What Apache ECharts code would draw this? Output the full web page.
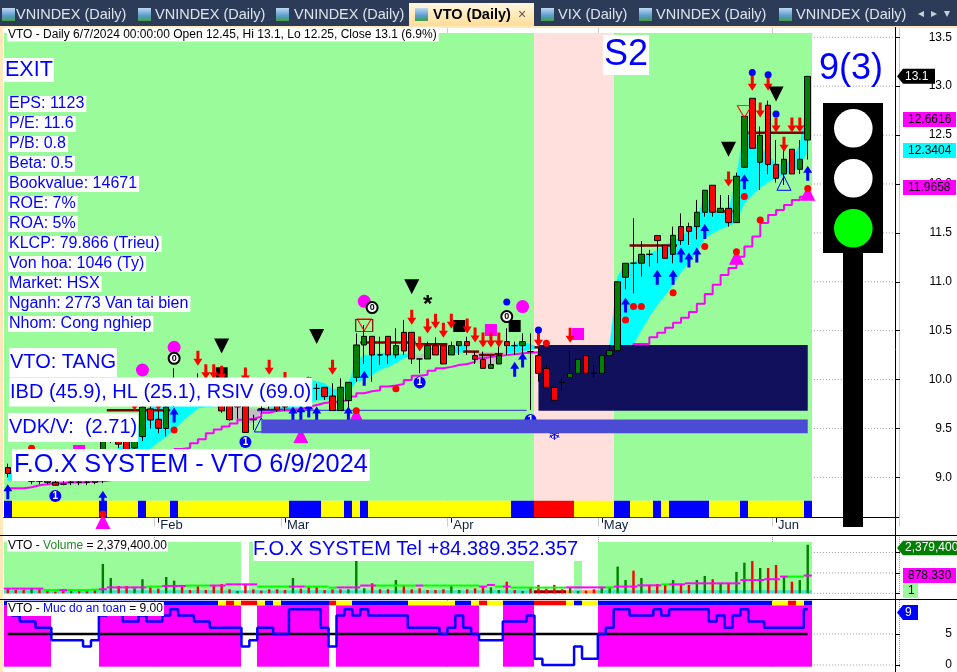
<!DOCTYPE html>
<html><head><meta charset="utf-8">
<style>html,body{margin:0;padding:0;background:#fff}#c{width:957px;height:672px}</style>
<script src="https://cdn.jsdelivr.net/npm/echarts@6/dist/echarts.min.js"></script>
</head><body><div id="c"></div>
<script>
const opens=[9.10,9.05,9.12,8.96,8.98,8.97,8.95,8.93,8.95,8.95,
8.95,8.97,8.98,9.45,9.41,9.40,9.30,9.417,9.70,9.594,
9.50,9.90,9.90,9.95,9.88,9.90,9.85,10.02,9.85,9.75,
9.95,9.59,9.70,9.80,9.78,9.78,9.80,9.82,10.02,9.91,
9.921,9.832,9.683,9.785,10.023,10.354,10.442,10.252,10.442,10.252,
10.483,10.483,10.211,10.211,10.347,10.347,10.252,10.347,10.388,10.245,
10.207,10.115,10.160,10.388,10.347,10.347,10.286,10.245,10.115,9.921,
9.972,10.023,10.064,10.245,10.064,10.064,10.245,10.296,11.046,11.19,
11.19,11.281,11.472,11.373,11.281,11.564,11.564,11.564,11.711,11.987,
11.711,11.751,11.605,12.171,12.876,12.222,12.805,12.2,12.103,12.355,12.15,12.45];
const closes=[9.04,9.10,9.06,9.03,8.96,8.95,8.92,8.93,8.95,8.95,
8.95,8.95,9.40,9.38,9.34,9.28,9.48,9.72,9.587,9.502,
9.72,9.85,9.85,9.87,9.93,9.84,9.80,9.68,9.59,9.72,
9.46,9.59,9.70,9.75,9.69,9.72,9.85,9.88,9.82,9.91,
9.826,9.683,9.921,9.972,10.354,10.442,10.252,10.252,10.252,10.347,
10.293,10.211,10.211,10.347,10.252,10.160,10.347,10.388,10.347,10.207,
10.115,10.153,10.245,10.347,10.347,10.388,10.286,10.064,9.921,9.788,
9.972,10.061,10.207,10.064,10.064,10.245,10.296,11.0,11.189,11.19,
11.281,11.281,11.421,11.24,11.475,11.421,11.516,11.711,11.936,11.711,
11.751,11.605,12.079,12.692,12.365,12.498,12.2,12.058,12.253,12.103,12.253,13.1];
const lows=[9.0,9.02,9.02,8.93,8.93,8.93,8.92,8.92,8.92,8.92,
8.92,8.93,8.94,9.35,9.30,9.26,9.26,9.37,9.50,9.45,
9.42,9.72,9.80,9.82,9.80,9.80,9.75,9.66,9.58,9.60,
9.46,9.485,9.65,9.70,9.67,9.68,9.75,9.75,9.78,9.79,
9.791,9.683,9.683,9.689,9.979,10.160,9.979,10.150,10.160,10.217,
10.252,10.160,10.064,10.211,10.252,10.160,10.252,10.252,10.252,10.160,
10.115,10.115,10.160,10.252,10.252,10.252,9.689,9.979,9.921,9.788,
9.887,10.023,10.064,10.064,10.023,10.064,10.245,10.296,10.923,10.882,
11.053,11.155,11.189,11.24,11.189,11.377,11.377,11.434,11.666,11.666,
11.711,11.564,11.605,12.171,12.365,11.939,12.1,12.014,11.99,12.103,12.103,12.25];
const highs=[9.14,9.14,9.15,9.14,9.0,9.01,8.98,8.96,8.98,9.0,
8.98,8.98,9.42,9.48,9.46,9.44,9.52,9.76,9.76,9.72,
9.78,10.115,10.0,10.0,10.064,9.98,9.96,10.08,9.95,9.85,
10.0,9.64,9.8,9.95,9.85,9.85,9.95,9.95,10.03,9.96,
9.921,9.962,10.013,9.972,10.473,10.558,10.442,10.439,10.442,10.524,
10.610,10.483,10.211,10.388,10.432,10.347,10.388,10.388,10.439,10.286,
10.286,10.252,10.337,10.524,10.388,10.473,10.473,10.337,10.149,9.921,
10.013,10.293,10.207,10.245,10.149,10.245,10.354,11.0,11.189,11.649,
11.417,11.326,11.472,11.373,11.564,11.70,11.605,11.837,11.936,11.987,
11.888,11.888,12.116,12.692,12.876,12.587,12.852,12.45,12.4,12.355,12.45,13.1];
const bandFast=[9.06,9.06,9.06,9.06,9.01,8.97,8.93,8.93,8.93,8.93,
8.94,8.96,9.10,9.25,9.30,9.35,9.45,9.60,9.75,9.75,
9.76,9.76,9.76,9.76,9.75,9.74,9.72,9.70,9.62,9.58,
9.55,9.56,9.66,9.72,9.75,9.80,9.95,10.0,10.0,9.98,
9.96,9.9,9.9,9.95,10.2,10.25,10.25,10.27,10.27,10.26,
10.26,10.26,10.2,10.27,10.37,10.2,10.3,10.35,10.36,10.2,
10.13,10.13,10.2,10.33,10.36,10.38,10.36,10.33,10.2,10.2,
10.2,10.2,10.2,10.2,10.2,10.2,10.35,11.05,11.19,11.19,
11.26,11.285,11.325,11.376,11.42,11.46,11.53,11.6,11.92,11.73,
11.70,11.73,12.07,12.6,12.45,12.37,12.3,12.2,12.2,12.25,12.4,12.85];
const bandSlow=[8.97,8.97,8.98,8.98,8.99,8.98,8.97,8.97,8.97,8.97,
8.97,8.97,8.97,9.0,9.05,9.1,9.18,9.25,9.297,9.36,
9.417,9.49,9.57,9.64,9.706,9.72,9.72,9.71,9.71,9.71,
9.71,9.70,9.70,9.71,9.70,9.70,9.70,9.72,9.75,9.79,
9.79,9.82,9.84,9.87,9.979,10.0,10.05,10.1,10.13,10.17,
10.22,10.24,10.25,10.28,10.33,10.27,10.28,10.27,10.3,10.28,
10.28,10.28,10.27,10.27,10.28,10.29,10.31,10.32,10.3,10.3,
10.3,10.3,10.3,10.3,10.3,10.3,10.33,10.33,10.34,10.364,
10.507,10.643,10.762,10.865,10.967,11.10,11.19,11.31,11.445,11.496,
11.54,11.57,11.615,11.8,11.888,11.96,12.02,12.058,12.09,12.126,12.178,12.34];
const stopLine=[8.888,8.89,8.90,8.92,8.93,8.94,8.94,8.95,8.95,8.95,
8.96,8.96,8.97,9.0,9.04,9.08,9.12,9.16,9.2,9.23,
9.26,9.29,9.30,9.35,9.39,9.45,9.49,9.52,9.55,9.59,
9.60,9.62,9.66,9.68,9.69,9.69,9.70,9.72,9.74,9.76,
9.77,9.775,9.79,9.826,9.86,9.88,9.89,9.93,9.94,9.955,
9.996,10.04,10.05,10.09,10.115,10.13,10.15,10.16,10.18,10.217,
10.23,10.24,10.25,10.26,10.27,10.275,10.28,10.15,10.15,10.16,
10.18,10.2,10.22,10.24,10.26,10.28,10.3,10.31,10.33,10.364,
10.364,10.432,10.48,10.53,10.58,10.633,10.69,10.776,10.875,10.97,
11.07,11.14,11.257,11.36,11.462,11.6,11.683,11.735,11.785,11.837,11.87,11.97];

const volumes=[.245,.163,.163,.245,.196,.196,.08,.163,.163,.114,
.098,.163,1.44,.75,.36,.36,.245,.69,.294,.229,
.8,.62,.41,.163,.36,.163,.36,.457,.196,.114,
.41,.196,.13,.196,.196,.163,.75,.229,.33,.33,
.163,.196,.196,.196,1.63,.245,.49,.196,.196,.65,
.36,.196,.245,.163,.163,.196,.36,.163,.196,.245,
.36,.294,.163,.57,.163,.114,.294,.41,.229,.41,
.196,.294,.114,.13,.196,.294,.294,1.31,.65,1.11,
.75,.41,.457,.41,.65,.457,.41,.65,.85,.69,
.457,.49,1.05,1.5,1.58,1.24,1.24,1.39,.82,.57,.65,2.379];
const volumeDirs=["r","r","r","g","r","r","r","r","g","r","r","r","g","g","r","r","g","g","r","r",
"g","g","r","r","r","r","r","r","r","g","r","r","r","r","r","r","g","r","r","r",
"r","r","r","g","g","g","r","r","r","g","r","r","r","r","r","r","g","g","r","r",
"r","g","g","r","r","g","r","r","r","r","r","g","g","r","r","g","g","g","g","r",
"g","r","r","r","g","r","r","g","g","r","g","r","g","g","r","g","r","r","g","r","g","g"];
const volumeMa=[.23,.23,.23,.23,.23,.16,.16,.16,.16,.16,
.16,.18,.2,.29,.29,.29,.29,.29,.33,.33,
.36,.36,.36,.38,.38,.38,.38,.38,.44,.44,
.44,.44,.33,.33,.33,.33,.33,.33,.33,.33,
.33,.28,.29,.29,.29,.38,.38,.38,.38,.38,
.38,.38,.38,.38,.38,.38,.38,.38,.38,.38,
.33,.41,.33,.33,.28,.28,.28,.28,.28,.28,
.28,.29,.29,.29,.29,.29,.29,.33,.33,.33,
.39,.39,.39,.44,.44,.44,.49,.49,.49,.49,
.49,.49,.49,.65,.65,.65,.69,.69,.82,.82,.82,.87];
const volumeMaGreenRuns=[[5,6],[8,11],[18,19],[23,25],[32,35],[38,41],[47,51],[53,59],[62,62],[64,70],[76,76],[83,83],[99,100]];
const volumeBaseRuns=[["T",67],["D",4],["O",1],["T",1],["O",2],["T",27]];
const volumeBaseHeight=.15;

const safetyLevel=[9,8,7,7,6,6,4,4,4,4,3,4,8,9,9,7,7,8,7,7,
8,9,8,8,7,7,6,6,6,6,3,4,6,6,5,5,9,9,9,9,
6,3,8,9,8,9,8,8,8,8,8,6,6,6,6,5,6,8,6,5,
4,4,4,7,7,7,8,1,0,0,0,0,3,1,1,5,6,9,9,8,
8,8,9,8,9,9,9,9,9,7,8,6,8,9,7,7,6,6,6,6,6,9];
const safetyMid=5;

const mainStripRuns=[["B",1],["Y",11],["B",1],["Y",4],["B",1],["Y",3],["B",1],["Y",14],["B",4],["Y",3],["B",1],["Y",1],["B",1],["Y",18],["B",3],["R",5],["Y",5],["B",2],["Y",3],["B",1],["Y",1],["B",5],["Y",4],["B",1],["Y",7],["B",1]];
const safetyStripRuns=[["B",27],["Y",1],["R",1],["Y",1],["R",2],["Y",1],["B",1],["Y",1],["B",6],["R",1],["Y",2],["B",7],["Y",6],["B",2],["Y",1],["R",1],["Y",2],["B",4],["R",4],["Y",1],["B",1],["Y",2],["B",22],["Y",2],["R",1],["Y",1],["B",1]];
const mainBgRuns=[["G",67],["P",10],["G",25]];
const volumeBgRuns=[["G",30],["W",1],["G",36],["W",5],["G",1],["W",2],["G",27]];

const downArrows=[[16,9.76],[19,9.76],[24,10.218],[25,10.081],[26,10.081],[27,10.064],[30,10.047],[33,10.125],[35,10.0],
[41,10.125],[51,10.637],[52,10.364],[53,10.548],[54,10.596],[55,10.504],[56,10.596],[58,10.548],[59,10.456],[60,10.405],[61,10.405],[62,10.405],[67,10.412],[71,10.453],
[91,12.052],[94,13.03],[95,12.757],[96,13.03],[97,12.604],[98,12.406],[99,12.604],[100,12.604]];
const upArrows=[[0,8.854],[12,8.786],[21,9.638],[36,9.648],[37,9.662],[38,9.69],[39,9.648],[43,9.648],[45,10.013],[64,10.105],[65,10.2],
[78,10.763],[82,11.046],[84,11.046],[85,11.274],[86,11.223],[87,11.274],[88,11.513],[93,12.024],[101,12.11]];
const signalOne=[[6,8.81],[30,9.362],[52,9.969],[66,9.587]];
const signalZero=[[21,10.217],[46,10.736],[63,10.644]];
const magentaDots=[[17,10.098],[21,10.33],[45,10.80],[65,10.746]];
const blackDown=[[27,10.344],[39,10.44],[51,10.95],[91,12.355],[97,12.92]];
const blackSquares=[[27,10.064],[57,10.548],[64,10.548]];
const magentaSquares=[[9,9.27],[61,10.507],[72,10.466]];
const blueDiamonds=[[63,10.794],[67,10.507],[94,13.139],[96,13.118],[97,12.716]];
const redDiamonds=[[3,9.297],[12,8.626],[21,9.485],[44,9.682],[49,9.907],[68,10.371],[78,10.609],[79,10.746],[80,10.746],[84,10.889],[88,11.36],[92,11.308],[93,11.871],[95,11.632],[101,11.953]];
const magentaUp=[[12,8.548],[37,9.427],[44,9.638],[92,11.25],[101,11.905]];
const hollowRedDown=[[45,10.558],[93,12.74]];
const hollowBlueUp=[[32,9.536],[98,12.007]];
const hollowBox=[[45,10.555]];
const asterisks=[[53,10.797]];
const snowflakes=[[69,9.417]];
const resistance=[[13,20,9.686],[32,36,9.69],[45,51,10.378],[52,55,10.36],[58,59,10.286],[60,61,10.252],[62,62,10.26],[67,67,10.33],[79,84,11.37],[90,91,11.72],[94,100,12.525]];
const thinBlue=[[32,65,9.686]];
const navyZone=[[67,101,10.354,9.682]];
const blueZone=[[32,101,9.593,9.45]];
const priceTicks=[9,9.5,10,10.5,11,11.5,12,12.5,13,13.5];
const volumeTicks=[0,1,2];
const safetyTicks=[0,5];
const monthTicks=[[19,"Feb"],[35,"Mar"],[56,"Apr"],[75,"May"],[97,"Jun"]];
const statLines=["EPS: 1123","P/E: 11.6","P/B: 0.8","Beta: 0.5","Bookvalue: 14671","ROE: 7%","ROA: 5%","KLCP: 79.866 (Trieu)","Von hoa: 1046 (Ty)","Market: HSX","Nganh: 2773 Van tai bien","Nhom: Cong nghiep"];
const tabs=[["VNINDEX (Daily)",1,16],["VNINDEX (Daily)",137,155],["VNINDEX (Daily)",275,294],["VIX (Daily)",540,558],["VNINDEX (Daily)",638,656],["VNINDEX (Daily)",778,796]];

const BARS=102, SLOTS=113;
const expand=r=>r.flatMap(([c,n])=>Array(n).fill(c));
const PAL={B:"#0000FF",Y:"#FFFF00",R:"#FF0000",G:"#99FB99",P:"#FFE0DC",W:"#FFFFFF",T:"#40E0D0",D:"#8B0000",O:"#FFA050",M:"#FF00FF"};
const categories=Array.from({length:SLOTS},(_,i)=>{const m=monthTicks.find(t=>t[0]===i);return m?m[1]:"";});
const hasLabel=(i,v)=>v!=="";
const FONT='"Liberation Sans",Arial,sans-serif';

function cellSeries(gridIdx,codes,top,bottom,z){
  return {type:"custom",xAxisIndex:gridIdx,yAxisIndex:gridIdx,z,silent:true,clip:false,
    data:codes.map((c,i)=>[i,top,bottom]),encode:{x:0,y:[1,2]},
    renderItem(p,api){
      const w=api.size([1,0])[0],i=api.value(0),c=api.coord([i,api.value(1)]),d=api.coord([i,api.value(2)]);
      const x0=Math.round(c[0]-w/2),x1=Math.round(c[0]+w/2);
      return {type:"rect",shape:{x:x0,y:c[1],width:x1-x0,height:d[1]-c[1]},style:{fill:PAL[codes[p.dataIndex]]}};
    }};
}
function zoneSeries(rows,color,z){
  return {type:"custom",xAxisIndex:0,yAxisIndex:0,z,silent:true,clip:false,data:rows,encode:{x:[0,1],y:[2,3]},
    renderItem(p,api){
      const a=api.coord([api.value(0),api.value(2)]),b=api.coord([api.value(1),api.value(3)]);
      return {type:"rect",shape:{x:a[0],y:a[1],width:b[0]-a[0],height:b[1]-a[1]},style:{fill:color}};
    }};
}
function segSeries(rows,color,lw,z){
  return {type:"custom",xAxisIndex:0,yAxisIndex:0,z,silent:true,clip:false,data:rows,encode:{x:[0,1],y:2},
    renderItem(p,api){
      const w=api.size([1,0])[0],a=api.coord([api.value(0),api.value(2)]),b=api.coord([api.value(1),api.value(2)]);
      return {type:"line",shape:{x1:a[0]-w/2,y1:a[1],x2:b[0]+w/2,y2:b[1]},style:{stroke:color,lineWidth:lw}};
    }};
}
function gridLevels(idx,ticks){
  return {type:"custom",xAxisIndex:idx,yAxisIndex:idx,z:1,silent:true,clip:false,data:ticks.map(v=>[0,v]),encode:{x:0,y:1},
    renderItem(p,api){
      const r=p.coordSys,y=api.coord([0,api.value(1)])[1];
      return {type:"line",shape:{x1:r.x,y1:y,x2:895,y2:y},style:{stroke:"#999",lineWidth:1,lineDash:[1,2]}};
    }};
}
function marks(data,symbol,size,color,z,extra){
  return Object.assign({type:"scatter",xAxisIndex:0,yAxisIndex:0,data,symbol,symbolSize:size,z:z||20,clip:false,silent:true,animation:false,
    itemStyle:{color,opacity:1}},extra||{});
}
const ARROW_D="path://M3,0H6V8H9L4.5,15L0,8H3Z", ARROW_U="path://M4.5,0L9,7H6V15H3V7H0Z";
const TRI_D="path://M0,0H10L5,10Z", TRI_U="path://M5,0L10,10H0Z";
const hollow=c=>({itemStyle:{color:"rgba(0,0,0,0)",borderColor:c,borderWidth:1,opacity:1}});

const candleData=opens.map((o,i)=>[o,closes[i],lows[i],highs[i]]);
const volSeries=volumes.map((v,i)=>({value:[i,v],itemStyle:{color:volumeDirs[i]==="g"?"#008000":"#FF0000"}}));
const isGreenMa=i=>volumeMaGreenRuns.some(r=>i>=r[0]&&i<=r[1]);
const baseCodes=expand(volumeBaseRuns);
const fillCodes=safetyLevel.map(v=>v>=safetyMid?"M":"W");

const xBase=(gi)=>({type:"category",gridIndex:gi,data:categories,boundaryGap:true,
  axisLine:{show:false},axisTick:{show:false},axisLabel:{show:false},
  splitLine:{show:true,interval:hasLabel,lineStyle:{type:"dotted",color:"#999"}}});
const yBase=(gi,min,max,ticks,showLabels)=>({type:"value",gridIndex:gi,position:"right",offset:-3.8,min,max,
  splitLine:{show:false},axisLine:{show:false},
  axisTick:{show:true,length:5,inside:false,lineStyle:{color:"#000"},customValues:ticks},
  axisLabel:{show:showLabels,customValues:ticks,color:"#000",fontSize:12,fontFamily:FONT,align:"right",margin:57,formatter:v=>gi===0?v.toFixed(1):String(v)}});

const option={
  animation:false,backgroundColor:"#fff",
  grid:[
    {left:3.85,width:894.96,top:27.5,height:498.78},
    {left:3.85,width:894.96,top:535,height:58.3},
    {left:3.85,width:894.96,top:600,height:67}
  ],
  xAxis:[
    Object.assign(xBase(0),{position:"bottom",offset:-8.6,
      axisLine:{show:true,onZero:false,lineStyle:{color:"#000",width:1}},
      axisTick:{show:true,interval:hasLabel,alignWithLabel:true,length:5,lineStyle:{color:"#000"}},
      axisLabel:{show:true,interval:hasLabel,align:"left",margin:1,padding:[0,0,0,2],color:"#102040",fontSize:13,fontFamily:FONT}}),
    xBase(1),xBase(2)
  ],
  yAxis:[
    yBase(0,8.5,13.6,priceTicks,true),
    yBase(1,0,2.858,volumeTicks,false),
    yBase(2,-0.32,10.48,safetyTicks,true)
  ],
  series:[
    gridLevels(0,priceTicks),gridLevels(1,volumeTicks),gridLevels(2,safetyTicks),
    cellSeries(0,expand(mainBgRuns),13.544,8.761,2),
    cellSeries(0,expand(mainStripRuns),8.761,8.592,2),
    {type:"custom",xAxisIndex:0,yAxisIndex:0,z:3,silent:true,clip:false,
      data:bandFast.map((f,i)=>[i,f,bandSlow[i]]),encode:{x:0,y:[1,2]},
      renderItem(p,api){
        const i=api.value(0);
        if(i>=BARS-1) return null;
        const f0=api.value(1),s0=api.value(2),f1=bandFast[i+1],s1=bandSlow[i+1];
        const pts=[api.coord([i,f0]),api.coord([i+1,f1]),api.coord([i+1,s1]),api.coord([i,s0])];
        const col=(f0+f1)>=(s0+s1)?"#00FFFF":"#C0C0C0";
        return {type:"polygon",shape:{points:pts},style:{fill:col,stroke:col,lineWidth:.4}};
      }},
    {type:"line",xAxisIndex:0,yAxisIndex:0,z:4,data:stopLine,step:"end",symbol:"none",silent:true,
      lineStyle:{color:"#FF00FF",width:2}},
    segSeries(resistance,"#800000",2.5,4),
    segSeries(thinBlue,"#2A2AE0",1,4),
    zoneSeries(navyZone,"#10105C",5),
    {type:"candlestick",xAxisIndex:0,yAxisIndex:0,z:6,data:candleData,barWidth:6,silent:true,
      itemStyle:{color:"#008000",color0:"#FF0000",borderColor:"#000",borderColor0:"#000",borderColorDoji:"#000",borderWidth:1}},
    marks(downArrows,ARROW_D,[9,15],"#FF0000"),
    marks(upArrows,ARROW_U,[9,15],"#0000FF"),
    marks(blackDown,TRI_D,[15,15],"#000"),
    marks(magentaUp,TRI_U,[15,15],"#FF00FF",19),
    marks(magentaDots,"circle",13,"#FF00FF"),
    marks(blackSquares,"rect",12,"#000",18),
    marks(magentaSquares,"rect",12,"#FF00FF",18),
    marks(blueDiamonds,"circle",7,"#0000FF"),
    marks(redDiamonds,"circle",7,"#FF0000",21),
    marks(hollowRedDown,TRI_D,[14,12],"#FF0000",20,hollow("#FF0000")),
    marks(hollowBlueUp,TRI_U,[14,14],"#0000FF",20,hollow("#0000FF")),
    marks(hollowBox,"rect",[17,12],"#000",20,hollow("#800000")),
    marks(signalOne,"circle",12,"#0000FF",20,{label:{show:true,position:"inside",formatter:"1",color:"#fff",fontSize:10,fontWeight:"bold",fontFamily:FONT}}),
    marks(signalZero,"circle",11,"#fff",20,{itemStyle:{color:"#fff",borderColor:"#000",borderWidth:2,opacity:1},label:{show:true,position:"inside",formatter:"0",color:"#000",fontSize:9,fontWeight:"bold",fontFamily:FONT}}),
    marks(asterisks,"circle",1,"#000",20,{label:{show:true,position:"inside",formatter:"*",color:"#000",fontSize:24,fontWeight:"bold",fontFamily:FONT,offset:[0,4]}}),
    marks(snowflakes,"circle",1,"#0000FF",20,{label:{show:true,position:"inside",formatter:"❄",color:"#0000FF",fontSize:15,fontFamily:"DejaVu Sans"}}),
    zoneSeries(blueZone,"#4B4BD6",25),
    cellSeries(1,expand(volumeBgRuns),2.52,0,2),
    cellSeries(1,baseCodes,volumeBaseHeight,0,3),
    {type:"bar",xAxisIndex:1,yAxisIndex:1,z:4,data:volSeries,barWidth:2.4,silent:true},
    {type:"custom",xAxisIndex:1,yAxisIndex:1,z:5,silent:true,clip:false,data:volumeMa.map((v,i)=>[i,v]),encode:{x:0,y:1},
      renderItem(p,api){
        const w=api.size([1,0])[0],i=api.value(0),c=api.coord([i,api.value(1)]);
        return {type:"line",shape:{x1:c[0]-w/2,y1:c[1],x2:c[0]+w/2,y2:c[1]},style:{stroke:isGreenMa(i)?"#00FF00":"#FF00FF",lineWidth:2}};
      }},
    cellSeries(2,fillCodes,9.63,-0.27,2),
    cellSeries(2,expand(safetyStripRuns),10.37,9.63,2),
    {type:"line",xAxisIndex:2,yAxisIndex:2,z:4,data:safetyLevel.map(()=>safetyMid),symbol:"none",silent:true,lineStyle:{color:"#000",width:2.5}},
    {type:"line",xAxisIndex:2,yAxisIndex:2,z:5,data:safetyLevel,step:"middle",symbol:"none",silent:true,lineStyle:{color:"#0000FF",width:2.5}}
  ],
  graphic:{elements:buildChrome()}
};

function buildChrome(){
  const g=[];const Z=100;
  const rect=(x,y,w,h,fill,z)=>g.push({type:"rect",silent:true,z:z||Z,shape:{x,y,width:w,height:h},style:{fill}});
  const txt=(x,y,text,font,fill,bg,pad,z)=>g.push({type:"text",silent:true,z:z||Z+1,x,y,style:{text,font:font+" "+FONT,fill,verticalAlign:"middle",align:"left",backgroundColor:bg||"transparent",padding:pad||0}});
  rect(0,0,957,26,"#2C3B57");
  const grad={type:"linear",x:0,y:0,x2:0,y2:1,colorStops:[{offset:0,color:"#FFF6E0"},{offset:1,color:"#FFDC94"}]};
  rect(409,3,125,24,grad);
  rect(0,26,957,2,"#FFE8BC");
  rect(0,26,3,646,"#FFE8BC");
  const icon={type:"linear",x:0,y:0,x2:0,y2:1,colorStops:[{offset:0,color:"#BFD8F0"},{offset:.6,color:"#5A9BD0"},{offset:1,color:"#3FA040"}]};
  tabs.forEach(t=>{rect(t[1]+1,8,13,13,icon);txt(t[2],15,t[0],"14.5px","#DDE4EE");});
  rect(415,8,13,13,icon);txt(433,15,"VTO (Daily)","bold 14.5px","#000");
  txt(518,15,"×","14px","#555");
  txt(918,14,"◂","12px","#C8D0DC");txt(931,14,"▸","12px","#C8D0DC");txt(944,14,"▾","12px","#C8D0DC");
  g.push({type:"line",silent:true,z:Z,shape:{x1:895.5,y1:27,x2:895.5,y2:672},style:{stroke:"#000",lineWidth:1}});
  g.push({type:"line",silent:true,z:Z,shape:{x1:0,y1:535.5,x2:957,y2:535.5},style:{stroke:"#000",lineWidth:1}});
  g.push({type:"line",silent:true,z:Z,shape:{x1:0,y1:599.5,x2:957,y2:599.5},style:{stroke:"#000",lineWidth:1}});
  txt(7,34.5,"VTO - Daily 6/7/2024 00:00:00 Open 12.45, Hi 13.1, Lo 12.25, Close 13.1 (6.9%)","12px","#000","#fff",[1,2,1,1]);
  txt(4,70,"EXIT","21.5px","#0000FF","#fff",[1,1,1,1]);
  statLines.forEach((s,i)=>txt(8,104+i*20,s,"16px","#0000FF","#fff",[0,2,0,1]));
  txt(9,362.5,"VTO: TANG","20px","#0000FF","#fff",[5,1,4,1]);
  txt(9,392,"IBD (45.9), HL (25.1), RSIV (69.0)","20px","#0000FF","#fff",[5,1,4,1]);
  txt(8,427.5,"VDK/V:  (2.71)","20px","#0000FF","#fff",[5,1,4,1]);
  txt(12,465,"F.O.X SYSTEM - VTO 6/9/2024","25.3px","#0000FF","#fff",[4,2,3,2]);
  txt(603,55,"S2","36px","#0000FF","#fff",[2,1,2,1]);
  txt(819,69,"9(3)","36px","#0000FF");
  txt(253,549,"F.O.X SYSTEM Tel +84.389.352.357","20px","#0000FF","#fff",[2,6,2,0]);
  g.push({type:"text",silent:true,z:Z+1,x:7,y:545.5,style:{text:"{a|VTO - }{b|Volume}{a| = 2,379,400.00}",verticalAlign:"middle",backgroundColor:"#fff",padding:[0,1],rich:{a:{font:"12px "+FONT,fill:"#000"},b:{font:"12px "+FONT,fill:"#228B22"}}}});
  g.push({type:"text",silent:true,z:Z+1,x:7,y:609,style:{text:"{a|VTO - }{b|Muc do an toan}{a| = 9.00}",verticalAlign:"middle",backgroundColor:"#fff",padding:[1,1],rich:{a:{font:"12px "+FONT,fill:"#000"},b:{font:"12px "+FONT,fill:"#0000FF"}}}});
  rect(843,253,20,274,"#000");
  rect(823,103,60,150,"#000");
  [[128.3,"#fff"],[178.3,"#fff"],[228.3,"#00FF00"]].forEach(c=>g.push({type:"circle",silent:true,z:Z+1,shape:{cx:853.3,cy:c[0],r:19.3},style:{fill:c[1]}}));
  const ptr=(xr,cy,h,color,text,tc)=>{
    g.push({type:"polygon",silent:true,z:Z,shape:{points:[[897,cy],[903,cy-h/2],[xr,cy-h/2],[xr,cy+h/2],[903,cy+h/2]]},style:{fill:color}});
    txt(905,cy,text,"12px",tc);
  };
  const box=(y,h,color,text,w)=>{rect(903,y,w||53,h,color);txt(908,y+h/2,text,"12px","#000");};
  ptr(935,76.3,15,"#000","13.1","#fff");
  box(112,15,"#FF00FF","12.6616");
  box(143,15,"#00FFFF","12.3404");
  box(180,15,"#FF00FF","11.9658");
  ptr(957,548,14.5,"#008000","2,379,400","#fff");
  box(568,15,"#FF00FF","878,330");
  box(583,15,"#99FB99","1",15);
  ptr(918,612.5,15,"#0000FF","9","#fff");
  return g;
}
echarts.init(document.getElementById("c")).setOption(option);
</script></body></html>
